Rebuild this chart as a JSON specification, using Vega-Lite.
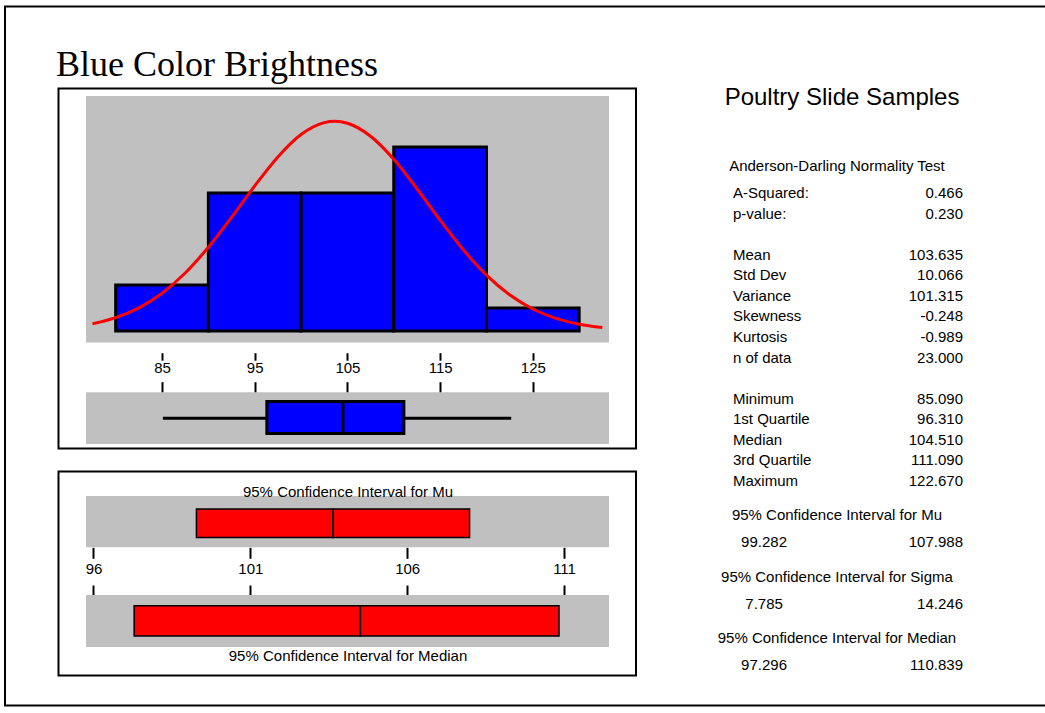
{
  "$schema": "https://vega.github.io/schema/vega-lite/v6.json",
  "width": 1045,
  "height": 713,
  "autosize": {"type": "none"},
  "padding": 0,
  "background": "white",
  "title": {
    "text": "Blue Color Brightness",
    "anchor": "start",
    "frame": "group",
    "orient": "top",
    "offset": -112,
    "dx": 56,
    "baseline": "alphabetic",
    "font": "Liberation Serif",
    "fontSize": 36,
    "fontWeight": "normal",
    "color": "black"
  },
  "config": {
    "view": {"stroke": null},
    "text": {"font": "Liberation Sans", "fontSize": 15, "color": "black", "baseline": "middle"},
    "axis": {"labelFont": "Liberation Sans", "titleFont": "Liberation Sans", "labelColor": "black", "titleColor": "black", "tickColor": "black", "grid": false}
  },
  "datasets": {
    "bins": [
      {"bin_start": 80, "bin_end": 90, "count": 2},
      {"bin_start": 90, "bin_end": 100, "count": 6},
      {"bin_start": 100, "bin_end": 110, "count": 6},
      {"bin_start": 110, "bin_end": 120, "count": 8},
      {"bin_start": 120, "bin_end": 130, "count": 1}
    ],
    "curve": [
      {"brightness": 77.5, "density": 0.313},
      {"brightness": 80, "density": 0.579},
      {"brightness": 82.5, "density": 1.006},
      {"brightness": 85, "density": 1.643},
      {"brightness": 87.5, "density": 2.523},
      {"brightness": 90, "density": 3.642},
      {"brightness": 92.5, "density": 4.944},
      {"brightness": 95, "density": 6.309},
      {"brightness": 97.5, "density": 7.570},
      {"brightness": 100, "density": 8.540},
      {"brightness": 102.5, "density": 9.058},
      {"brightness": 103.635, "density": 9.116},
      {"brightness": 105, "density": 9.032},
      {"brightness": 107.5, "density": 8.468},
      {"brightness": 110, "density": 7.464},
      {"brightness": 112.5, "density": 6.185},
      {"brightness": 115, "density": 4.819},
      {"brightness": 117.5, "density": 3.530},
      {"brightness": 120, "density": 2.431},
      {"brightness": 122.5, "density": 1.574},
      {"brightness": 125, "density": 0.958},
      {"brightness": 127.5, "density": 0.549},
      {"brightness": 130, "density": 0.295},
      {"brightness": 132.5, "density": 0.149}
    ],
    "summary": [
      {"min": 85.09, "q1": 96.31, "median": 104.51, "q3": 111.09, "max": 122.67}
    ],
    "ci": [
      {"interval": "Mu", "lower": 99.282, "center": 103.635, "upper": 107.988},
      {"interval": "Median", "lower": 97.296, "center": 104.51, "upper": 110.839}
    ],
    "table": [
      {"line": -14, "col": "title", "text": "Poultry Slide Samples"},
      {"line": -4, "col": "heading", "text": "Anderson-Darling Normality Test"},
      {"line": 0, "col": "label", "text": "A-Squared:"},
      {"line": 0, "col": "value", "text": "0.466"},
      {"line": 3, "col": "label", "text": "p-value:"},
      {"line": 3, "col": "value", "text": "0.230"},
      {"line": 9, "col": "label", "text": "Mean"},
      {"line": 9, "col": "value", "text": "103.635"},
      {"line": 12, "col": "label", "text": "Std Dev"},
      {"line": 12, "col": "value", "text": "10.066"},
      {"line": 15, "col": "label", "text": "Variance"},
      {"line": 15, "col": "value", "text": "101.315"},
      {"line": 18, "col": "label", "text": "Skewness"},
      {"line": 18, "col": "value", "text": "-0.248"},
      {"line": 21, "col": "label", "text": "Kurtosis"},
      {"line": 21, "col": "value", "text": "-0.989"},
      {"line": 24, "col": "label", "text": "n of data"},
      {"line": 24, "col": "value", "text": "23.000"},
      {"line": 30, "col": "label", "text": "Minimum"},
      {"line": 30, "col": "value", "text": "85.090"},
      {"line": 33, "col": "label", "text": "1st Quartile"},
      {"line": 33, "col": "value", "text": "96.310"},
      {"line": 36, "col": "label", "text": "Median"},
      {"line": 36, "col": "value", "text": "104.510"},
      {"line": 39, "col": "label", "text": "3rd Quartile"},
      {"line": 39, "col": "value", "text": "111.090"},
      {"line": 42, "col": "label", "text": "Maximum"},
      {"line": 42, "col": "value", "text": "122.670"},
      {"line": 47, "col": "heading", "text": "95% Confidence Interval for Mu"},
      {"line": 51, "col": "lower", "text": "99.282"},
      {"line": 51, "col": "value", "text": "107.988"},
      {"line": 56, "col": "heading", "text": "95% Confidence Interval for Sigma"},
      {"line": 60, "col": "lower", "text": "7.785"},
      {"line": 60, "col": "value", "text": "14.246"},
      {"line": 65, "col": "heading", "text": "95% Confidence Interval for Median"},
      {"line": 69, "col": "lower", "text": "97.296"},
      {"line": 69, "col": "value", "text": "110.839"}
    ]
  },
  "resolve": {
    "scale": {"x": "independent", "y": "independent"},
    "axis": {"x": "independent", "y": "independent"}
  },
  "layer": [
    {
      "data": {"values": [{"frame": "page"}]},
      "mark": {"type": "rect", "fillOpacity": 0, "stroke": "black", "strokeWidth": 2},
      "encoding": {
        "x": {"datum": 0, "type": "quantitative", "scale": {"domain": [0, 1], "range": [5, 1052], "nice": false, "zero": false}, "axis": null},
        "x2": {"datum": 1},
        "y": {"datum": 0, "type": "quantitative", "scale": {"domain": [0, 1], "range": [6.5, 705.5], "nice": false, "zero": false}, "axis": null},
        "y2": {"datum": 1}
      }
    },
    {
      "data": {"values": [{"frame": "histogram panel"}]},
      "mark": {"type": "rect", "fillOpacity": 0, "stroke": "black", "strokeWidth": 2},
      "encoding": {
        "x": {"datum": 0, "type": "quantitative", "scale": {"domain": [0, 1], "range": [58.5, 636], "nice": false, "zero": false}, "axis": null},
        "x2": {"datum": 1},
        "y": {"datum": 0, "type": "quantitative", "scale": {"domain": [0, 1], "range": [88.5, 448.5], "nice": false, "zero": false}, "axis": null},
        "y2": {"datum": 1}
      }
    },
    {
      "data": {"values": [{"frame": "interval panel"}]},
      "mark": {"type": "rect", "fillOpacity": 0, "stroke": "black", "strokeWidth": 2},
      "encoding": {
        "x": {"datum": 0, "type": "quantitative", "scale": {"domain": [0, 1], "range": [58.5, 636], "nice": false, "zero": false}, "axis": null},
        "x2": {"datum": 1},
        "y": {"datum": 0, "type": "quantitative", "scale": {"domain": [0, 1], "range": [471.5, 675.5], "nice": false, "zero": false}, "axis": null},
        "y2": {"datum": 1}
      }
    },
    {
      "layer": [
        {
          "data": {"values": [{"panel": "histogram"}]},
          "mark": {"type": "rect", "fill": "#C0C0C0"},
          "encoding": {
            "x": {"datum": 76.8, "type": "quantitative", "scale": {"domain": [76.8, 133.22], "range": [86, 609], "nice": false, "zero": false},
                  "axis": {"orient": "bottom", "offset": -360.3, "values": [85, 95, 105, 115, 125], "domain": false, "tickSize": 7.5, "tickWidth": 2, "labelPadding": 0, "labelFontSize": 15, "labelFlush": false, "labelOverlap": false, "title": null}},
            "x2": {"datum": 133.22},
            "y": {"datum": -0.5, "type": "quantitative", "scale": {"domain": [-0.5, 10.217], "range": [342.5, 96], "nice": false, "zero": false}, "axis": null},
            "y2": {"datum": 10.217}
          }
        },
        {
          "data": {"name": "bins"},
          "mark": {"type": "rect", "fill": "#0000FF", "stroke": "black", "strokeWidth": 3},
          "encoding": {
            "x": {"field": "bin_start", "type": "quantitative", "scale": {"domain": [76.8, 133.22], "range": [86, 609], "nice": false, "zero": false},
                  "axis": {"orient": "bottom", "offset": -360.3, "values": [85, 95, 105, 115, 125], "domain": false, "tickSize": 7.5, "tickWidth": 2, "labelPadding": 0, "labelFontSize": 15, "labelFlush": false, "labelOverlap": false, "title": null}},
            "x2": {"field": "bin_end"},
            "y": {"field": "count", "type": "quantitative", "scale": {"domain": [-0.5, 10.217], "range": [342.5, 96], "nice": false, "zero": false}, "axis": null},
            "y2": {"datum": 0}
          }
        },
        {
          "data": {"name": "curve"},
          "mark": {"type": "line", "color": "#FF0000", "strokeWidth": 3, "interpolate": "monotone"},
          "encoding": {
            "x": {"field": "brightness", "type": "quantitative", "scale": {"domain": [76.8, 133.22], "range": [86, 609], "nice": false, "zero": false},
                  "axis": {"orient": "bottom", "offset": -360.3, "values": [85, 95, 105, 115, 125], "domain": false, "tickSize": 7.5, "tickWidth": 2, "labelPadding": 0, "labelFontSize": 15, "labelFlush": false, "labelOverlap": false, "title": null}},
            "y": {"field": "density", "type": "quantitative", "scale": {"domain": [-0.5, 10.217], "range": [342.5, 96], "nice": false, "zero": false}, "axis": null}
          }
        }
      ]
    },
    {
      "layer": [
        {
          "data": {"values": [{"panel": "boxplot"}]},
          "mark": {"type": "rect", "fill": "#C0C0C0"},
          "encoding": {
            "x": {"datum": 76.8, "type": "quantitative", "scale": {"domain": [76.8, 133.22], "range": [86, 609], "nice": false, "zero": false},
                  "axis": {"orient": "top", "offset": -392.3, "values": [85, 95, 105, 115, 125], "domain": false, "tickSize": 10.6, "tickWidth": 2, "labels": false, "title": null}},
            "x2": {"datum": 133.22},
            "y": {"datum": 0, "type": "quantitative", "scale": {"domain": [0, 1], "range": [444, 392.3], "nice": false, "zero": false}, "axis": null},
            "y2": {"datum": 1}
          }
        },
        {
          "data": {"name": "summary"},
          "mark": {"type": "rule", "color": "black", "strokeWidth": 3},
          "encoding": {
            "x": {"field": "min", "type": "quantitative", "scale": {"domain": [76.8, 133.22], "range": [86, 609], "nice": false, "zero": false},
                  "axis": {"orient": "top", "offset": -392.3, "values": [85, 95, 105, 115, 125], "domain": false, "tickSize": 10.6, "tickWidth": 2, "labels": false, "title": null}},
            "x2": {"field": "max"},
            "y": {"datum": 0.5, "type": "quantitative", "scale": {"domain": [0, 1], "range": [444, 392.3], "nice": false, "zero": false}, "axis": null}
          }
        },
        {
          "data": {"name": "summary"},
          "mark": {"type": "rect", "fill": "#0000FF", "stroke": "black", "strokeWidth": 3},
          "encoding": {
            "x": {"field": "q1", "type": "quantitative", "scale": {"domain": [76.8, 133.22], "range": [86, 609], "nice": false, "zero": false},
                  "axis": {"orient": "top", "offset": -392.3, "values": [85, 95, 105, 115, 125], "domain": false, "tickSize": 10.6, "tickWidth": 2, "labels": false, "title": null}},
            "x2": {"field": "median"},
            "y": {"datum": 0.203, "type": "quantitative", "scale": {"domain": [0, 1], "range": [444, 392.3], "nice": false, "zero": false}, "axis": null},
            "y2": {"datum": 0.822}
          }
        },
        {
          "data": {"name": "summary"},
          "mark": {"type": "rect", "fill": "#0000FF", "stroke": "black", "strokeWidth": 3},
          "encoding": {
            "x": {"field": "median", "type": "quantitative", "scale": {"domain": [76.8, 133.22], "range": [86, 609], "nice": false, "zero": false},
                  "axis": {"orient": "top", "offset": -392.3, "values": [85, 95, 105, 115, 125], "domain": false, "tickSize": 10.6, "tickWidth": 2, "labels": false, "title": null}},
            "x2": {"field": "q3"},
            "y": {"datum": 0.203, "type": "quantitative", "scale": {"domain": [0, 1], "range": [444, 392.3], "nice": false, "zero": false}, "axis": null},
            "y2": {"datum": 0.822}
          }
        }
      ]
    },
    {
      "data": {"values": [{"panel": "mu"}]},
      "mark": {"type": "rect", "fill": "#C0C0C0"},
      "encoding": {
        "x": {"datum": 95.761, "type": "quantitative", "scale": {"domain": [95.761, 112.433], "range": [86, 609], "nice": false, "zero": false},
              "axis": {"orient": "top", "offset": -499.5, "zindex": 1, "domain": false, "ticks": false, "labels": false, "title": "95% Confidence Interval for Mu", "titleFontSize": 15, "titleFontWeight": "normal", "titlePadding": 0}},
        "x2": {"datum": 112.433},
        "y": {"datum": 0, "type": "quantitative", "scale": {"domain": [0, 1], "range": [547.3, 496], "nice": false, "zero": false}, "axis": null},
        "y2": {"datum": 1}
      }
    },
    {
      "data": {"name": "ci"},
      "transform": [{"filter": "datum.interval === 'Mu'"}],
      "layer": [
        {
          "mark": {"type": "rect", "fill": "#FF0000", "stroke": "black", "strokeWidth": 1.5},
          "encoding": {
            "x": {"field": "lower", "type": "quantitative", "scale": {"domain": [95.761, 112.433], "range": [86, 609], "nice": false, "zero": false},
                  "axis": {"orient": "bottom", "offset": -165.7, "values": [96, 101, 106, 111], "domain": false, "tickSize": 11, "tickWidth": 2, "labelPadding": 3, "labelFontSize": 15, "labelFlush": false, "labelOverlap": false, "title": null}},
            "x2": {"field": "center"},
            "y": {"datum": 0.189, "type": "quantitative", "scale": {"domain": [0, 1], "range": [547.3, 496], "nice": false, "zero": false}, "axis": null},
            "y2": {"datum": 0.747}
          }
        },
        {
          "mark": {"type": "rect", "fill": "#FF0000", "stroke": "black", "strokeWidth": 1.5},
          "encoding": {
            "x": {"field": "center", "type": "quantitative", "scale": {"domain": [95.761, 112.433], "range": [86, 609], "nice": false, "zero": false},
                  "axis": {"orient": "bottom", "offset": -165.7, "values": [96, 101, 106, 111], "domain": false, "tickSize": 11, "tickWidth": 2, "labelPadding": 3, "labelFontSize": 15, "labelFlush": false, "labelOverlap": false, "title": null}},
            "x2": {"field": "upper"},
            "y": {"datum": 0.189, "type": "quantitative", "scale": {"domain": [0, 1], "range": [547.3, 496], "nice": false, "zero": false}, "axis": null},
            "y2": {"datum": 0.747}
          }
        }
      ]
    },
    {
      "data": {"values": [{"panel": "median"}]},
      "mark": {"type": "rect", "fill": "#C0C0C0"},
      "encoding": {
        "x": {"datum": 95.761, "type": "quantitative", "scale": {"domain": [95.761, 112.433], "range": [86, 609], "nice": false, "zero": false},
              "axis": {"orient": "bottom", "offset": -64.5, "zindex": 1, "domain": false, "ticks": false, "labels": false, "title": "95% Confidence Interval for Median", "titleFontSize": 15, "titleFontWeight": "normal", "titlePadding": 0}},
        "x2": {"datum": 112.433},
        "y": {"datum": 0, "type": "quantitative", "scale": {"domain": [0, 1], "range": [647, 595], "nice": false, "zero": false}, "axis": null},
        "y2": {"datum": 1}
      }
    },
    {
      "data": {"name": "ci"},
      "transform": [{"filter": "datum.interval === 'Median'"}],
      "layer": [
        {
          "mark": {"type": "rect", "fill": "#FF0000", "stroke": "black", "strokeWidth": 1.5},
          "encoding": {
            "x": {"field": "lower", "type": "quantitative", "scale": {"domain": [95.761, 112.433], "range": [86, 609], "nice": false, "zero": false},
                  "axis": {"orient": "top", "offset": -595, "values": [96, 101, 106, 111], "domain": false, "tickSize": 10, "tickWidth": 2, "labels": false, "title": null}},
            "x2": {"field": "center"},
            "y": {"datum": 0.212, "type": "quantitative", "scale": {"domain": [0, 1], "range": [647, 595], "nice": false, "zero": false}, "axis": null},
            "y2": {"datum": 0.794}
          }
        },
        {
          "mark": {"type": "rect", "fill": "#FF0000", "stroke": "black", "strokeWidth": 1.5},
          "encoding": {
            "x": {"field": "center", "type": "quantitative", "scale": {"domain": [95.761, 112.433], "range": [86, 609], "nice": false, "zero": false},
                  "axis": {"orient": "top", "offset": -595, "values": [96, 101, 106, 111], "domain": false, "tickSize": 10, "tickWidth": 2, "labels": false, "title": null}},
            "x2": {"field": "upper"},
            "y": {"datum": 0.212, "type": "quantitative", "scale": {"domain": [0, 1], "range": [647, 595], "nice": false, "zero": false}, "axis": null},
            "y2": {"datum": 0.794}
          }
        }
      ]
    },
    {
      "data": {"name": "table"},
      "layer": [
        {
          "transform": [{"filter": "datum.col === 'title'"}],
          "mark": {"type": "text", "align": "center", "fontSize": 24},
          "encoding": {
            "text": {"field": "text"},
            "x": {"datum": 0.474, "type": "quantitative", "scale": {"domain": [0, 1], "range": [733, 963], "nice": false, "zero": false}, "axis": null},
            "y": {"field": "line", "type": "quantitative", "scale": {"domain": [0, 42], "range": [193.3, 480.7], "nice": false, "zero": false}, "axis": null}
          }
        },
        {
          "transform": [{"filter": "datum.col === 'heading'"}],
          "mark": {"type": "text", "align": "center"},
          "encoding": {
            "text": {"field": "text"},
            "x": {"datum": 0.452, "type": "quantitative", "scale": {"domain": [0, 1], "range": [733, 963], "nice": false, "zero": false}, "axis": null},
            "y": {"field": "line", "type": "quantitative", "scale": {"domain": [0, 42], "range": [193.3, 480.7], "nice": false, "zero": false}, "axis": null}
          }
        },
        {
          "transform": [{"filter": "datum.col === 'label'"}],
          "mark": {"type": "text", "align": "left"},
          "encoding": {
            "text": {"field": "text"},
            "x": {"datum": 0, "type": "quantitative", "scale": {"domain": [0, 1], "range": [733, 963], "nice": false, "zero": false}, "axis": null},
            "y": {"field": "line", "type": "quantitative", "scale": {"domain": [0, 42], "range": [193.3, 480.7], "nice": false, "zero": false}, "axis": null}
          }
        },
        {
          "transform": [{"filter": "datum.col === 'value'"}],
          "mark": {"type": "text", "align": "right"},
          "encoding": {
            "text": {"field": "text"},
            "x": {"datum": 1, "type": "quantitative", "scale": {"domain": [0, 1], "range": [733, 963], "nice": false, "zero": false}, "axis": null},
            "y": {"field": "line", "type": "quantitative", "scale": {"domain": [0, 42], "range": [193.3, 480.7], "nice": false, "zero": false}, "axis": null}
          }
        },
        {
          "transform": [{"filter": "datum.col === 'lower'"}],
          "mark": {"type": "text", "align": "center"},
          "encoding": {
            "text": {"field": "text"},
            "x": {"datum": 0.135, "type": "quantitative", "scale": {"domain": [0, 1], "range": [733, 963], "nice": false, "zero": false}, "axis": null},
            "y": {"field": "line", "type": "quantitative", "scale": {"domain": [0, 42], "range": [193.3, 480.7], "nice": false, "zero": false}, "axis": null}
          }
        }
      ]
    }
  ]
}
